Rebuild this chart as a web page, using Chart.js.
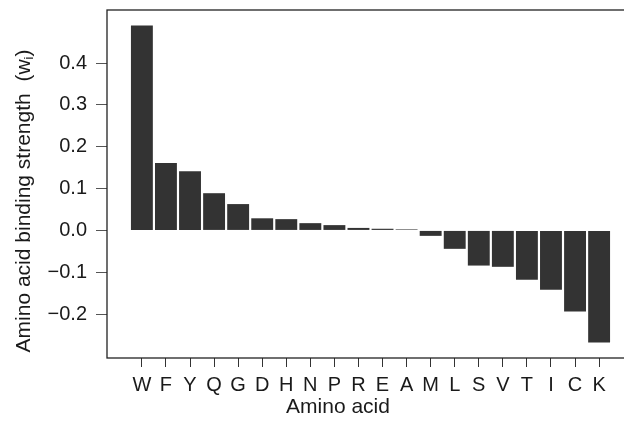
<!DOCTYPE html>
<html>
<head>
<meta charset="utf-8">
<script src="https://cdn.jsdelivr.net/npm/chart.js@4"></script>
<style>
  html, body { margin: 0; padding: 0; background: #fff; overflow: hidden; }
  #wrap { width: 660px; height: 421px; }
</style>
</head>
<body>
<div id="wrap"><canvas id="aminoChart" width="660" height="421"></canvas></div>
<script>
// values
const aminoAcids = ["W", "F", "Y", "Q", "G", "D", "H", "N", "P", "R", "E", "A", "M", "L", "S", "V", "T", "I", "C", "K"];
const bindingStrength = [0.490, 0.161, 0.1415, 0.089, 0.063, 0.029, 0.027, 0.0174, 0.0127, 0.006, 0.004, 0.0025,
  -0.013, -0.044, -0.084, -0.087, -0.118, -0.142, -0.194, -0.268];
const yTicks = [-0.2, -0.1, 0.0, 0.1, 0.2, 0.3, 0.4];

const fontFamily = "'Liberation Sans', Arial, sans-serif";
const textColor = "#1a1a1a";

// box round the plot area + axis titles (the y title has a subscript)
const frameAndTitles = {
  id: "frameAndTitles",
  afterDraw(chart) {
    const ctx = chart.ctx;
    const a = chart.chartArea;
    ctx.save();
    ctx.strokeStyle = "#222";
    ctx.lineWidth = 1.3;
    ctx.strokeRect(a.left, a.top, a.right - a.left, a.bottom - a.top);

    ctx.fillStyle = textColor;
    ctx.font = "21px " + fontFamily;
    ctx.textAlign = "center";
    ctx.textBaseline = "middle";
    ctx.fillText("Amino acid", 338, 407);

    // y title, rotated
    ctx.translate(24, 201);
    ctx.rotate(-Math.PI / 2);
    const main = "Amino acid binding strength  (w";
    const sub = "i";
    const close = ")";
    ctx.font = "21px " + fontFamily;
    const wMain = ctx.measureText(main).width;
    const wClose = ctx.measureText(close).width;
    ctx.font = "13px " + fontFamily;
    const wSub = ctx.measureText(sub).width;
    let x = -(wMain + wSub + wClose) / 2;
    ctx.textAlign = "left";
    ctx.font = "21px " + fontFamily;
    ctx.fillText(main, x, 0);
    x += wMain;
    ctx.font = "13px " + fontFamily;
    ctx.fillText(sub, x, 5);
    x += wSub;
    ctx.font = "21px " + fontFamily;
    ctx.fillText(close, x, 0);
    ctx.restore();
  }
};

new Chart(document.getElementById("aminoChart"), {
  type: "bar",
  data: {
    datasets: [
      {
        label: "Binding strength",
        data: bindingStrength.map((v, i) => ({ x: i, y: v })),
        backgroundColor: "#333333",
        borderWidth: 0,
        categoryPercentage: 1.0,
        barPercentage: 0.91,
      },
    ],
  },
  options: {
    responsive: false,
    animation: false,
    layout: { padding: { top: 10, right: 26, left: 0, bottom: 0 } },
    plugins: {
      legend: { display: false },
      tooltip: { enabled: false },
    },
    scales: {
      x: {
        type: "linear",
        offset: false,
        min: -1.45,
        max: 20.45,
        afterBuildTicks: function (scale) {
          scale.ticks = aminoAcids.map((_, i) => ({ value: i }));
        },
        afterFit: function (scale) {
          scale.height = 63;
          scale.paddingLeft = 0;
          scale.paddingRight = 0;
        },
        border: { display: false },
        grid: { offset: false, drawOnChartArea: false, drawTicks: true, tickLength: 9, color: "#333", lineWidth: 1 },
        ticks: {
          autoSkip: false,
          maxRotation: 0,
          padding: 6,
          color: textColor,
          font: { family: fontFamily, size: 20 },
          callback: function (value) {
            return aminoAcids[value];
          },
        },
      },
      y: {
        min: -0.305,
        max: 0.527,
        afterBuildTicks: function (scale) {
          scale.ticks = yTicks.map((v) => ({ value: v }));
        },
        afterFit: function (scale) {
          scale.width = 107;
          scale.paddingTop = 0;
          scale.paddingBottom = 0;
        },
        border: { display: false },
        grid: { drawOnChartArea: false, drawTicks: true, tickLength: 11, color: "#555", lineWidth: 1 },
        ticks: {
          padding: 9,
          color: textColor,
          font: { family: fontFamily, size: 20 },
          callback: function (value) {
            return value.toFixed(1).replace("-", "\u2212");
          },
        },
      },
    },
  },
  plugins: [frameAndTitles],
});
</script>
</body>
</html>
